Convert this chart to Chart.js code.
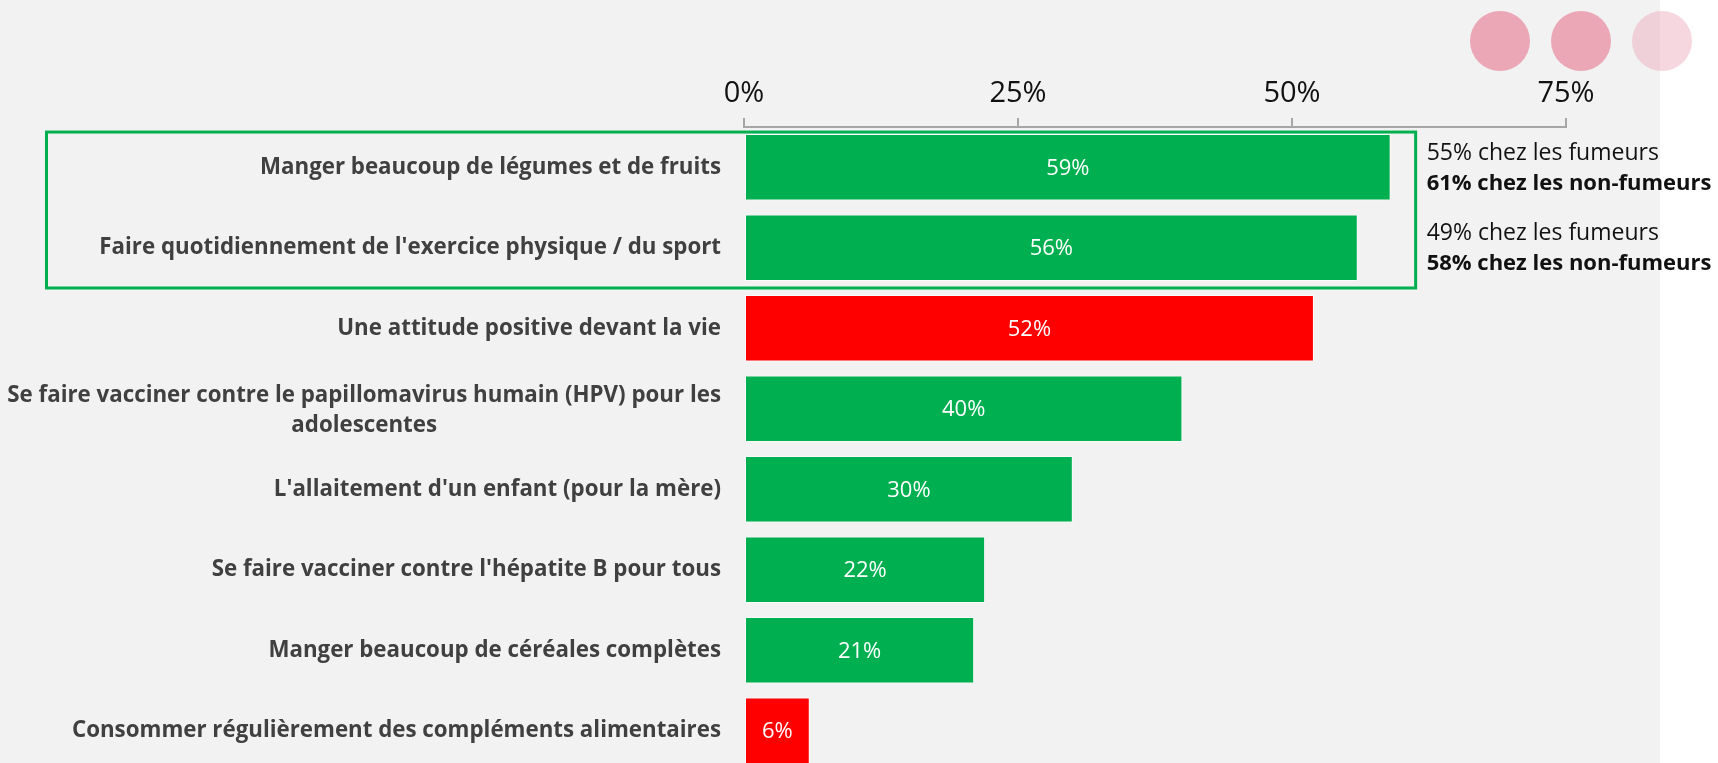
<!DOCTYPE html>
<html lang="fr">
<head>
<meta charset="utf-8">
<script src="https://cdn.jsdelivr.net/npm/chart.js@4.4.1/dist/chart.umd.min.js"></script>
<style>
  html, body { margin: 0; padding: 0; background: #ffffff; overflow: hidden; }
  #wrap { position: relative; width: 1718px; height: 763px; overflow: hidden; }
  canvas { display: block; }
</style>
</head>
<body>
<div id="wrap"><canvas id="chart" width="1718" height="771"></canvas></div>
<script>
// Données
const categories = [
    ["Manger beaucoup de légumes et de fruits"],
    ["Faire quotidiennement de l'exercice physique / du sport"],
    ["Une attitude positive devant la vie"],
    ["Se faire vacciner contre le papillomavirus humain (HPV) pour les", "adolescentes"],
    ["L'allaitement d'un enfant (pour la mère)"],
    ["Se faire vacciner contre l'hépatite B pour tous"],
    ["Manger beaucoup de céréales complètes"],
    ["Consommer régulièrement des compléments alimentaires"]
];
const values = [59, 56, 52, 40, 30, 22, 21, 6];
const isMyth = [false, false, true, false, false, false, false, true];
const xTicks = [0, 25, 50, 75];
const smokerRates = [55, 49];
const nonSmokerRates = [61, 58];

const VERT = '#00b050';
const ROUGE = '#ff0000';

// Fond gris + pastilles roses
const fondPlugin = {
    id: 'fond',
    beforeDraw(chart) {
        const ctx = chart.ctx;
        ctx.save();
        ctx.fillStyle = '#ffffff';
        ctx.fillRect(0, 0, chart.width, chart.height);
        ctx.fillStyle = '#f2f2f2';
        ctx.fillRect(0, 0, 1660, chart.height);
        ctx.restore();
    },
    afterDraw(chart) {
        const ctx = chart.ctx;
        const dots = [['#eca7b7', 1500], ['#eca7b7', 1581], ['rgba(236,167,183,0.45)', 1662]];
        ctx.save();
        dots.forEach(([c, x]) => {
            ctx.beginPath();
            ctx.arc(x, 41, 30, 0, Math.PI * 2);
            ctx.fillStyle = c;
            ctx.fill();
        });
        ctx.restore();
    }
};

// Libellés des catégories (blocs alignés à droite, lignes centrées)
const libellesPlugin = {
    id: 'libelles',
    afterDraw(chart) {
        const ctx = chart.ctx;
        const bars = chart.getDatasetMeta(0).data;
        const right = chart.chartArea.left - 23;
        ctx.save();
        ctx.font = '700 22.3px "Open Sans"';
        ctx.fillStyle = '#404040';
        ctx.textAlign = 'center';
        ctx.textBaseline = 'middle';
        categories.forEach((lines, i) => {
            const w = Math.max(...lines.map(l => ctx.measureText(l).width));
            const cx = right - w / 2;
            const y0 = bars[i].y - (lines.length - 1) * 13;
            lines.forEach((l, j) => ctx.fillText(l, cx, y0 + j * 30));
        });
        ctx.restore();
    }
};

// Valeurs dans les barres
const valeursPlugin = {
    id: 'valeurs',
    afterDatasetsDraw(chart) {
        const ctx = chart.ctx;
        ctx.save();
        ctx.font = '22px "Open Sans"';
        ctx.fillStyle = '#ffffff';
        ctx.textAlign = 'center';
        ctx.textBaseline = 'middle';
        chart.getDatasetMeta(0).data.forEach((bar, i) => {
            ctx.fillText(values[i] + '%', (bar.base + bar.x) / 2, bar.y + 1);
        });
        ctx.restore();
    }
};

// Cadre vert + détail fumeurs / non-fumeurs
const cadrePlugin = {
    id: 'cadre',
    afterDraw(chart) {
        const ctx = chart.ctx;
        const bars = chart.getDatasetMeta(0).data;
        const xs = chart.scales.x;
        const top = bars[0].y - bars[0].height / 2 - 2;
        const bottom = (bars[1].y + bars[2].y) / 2;
        const right = xs.getPixelForValue(values[0]) + 25;
        ctx.save();
        ctx.strokeStyle = VERT;
        ctx.lineWidth = 3;
        ctx.strokeRect(46.5, top, right - 46.5, bottom - top);

        ctx.textAlign = 'left';
        ctx.textBaseline = 'middle';
        ctx.fillStyle = '#111111';
        smokerRates.forEach((v, i) => {
            const y = bars[i].y;
            ctx.font = '23px "Open Sans"';
            ctx.fillText(v + '% chez les fumeurs', right + 11, y - 14);
            ctx.font = '700 22px "Open Sans"';
            ctx.fillText(nonSmokerRates[i] + '% chez les non-fumeurs', right + 11, y + 16);
        });
        ctx.restore();
    }
};

const ctx = document.getElementById('chart').getContext('2d');
new Chart(ctx, {
    type: 'bar',
    data: {
        labels: categories,
        datasets: [{
            data: values,
            backgroundColor: isMyth.map(m => m ? ROUGE : VERT),
            borderColor: 'rgba(255,255,255,0.6)',
            borderWidth: 1,
            borderSkipped: false,
            barPercentage: 0.825,
            categoryPercentage: 1
        }]
    },
    options: {
        indexAxis: 'y',
        responsive: false,
        animation: false,
        layout: { padding: { left: 744, right: 152, top: 0, bottom: 0 } },
        plugins: { legend: { display: false }, tooltip: { enabled: false } },
        scales: {
            x: {
                position: 'top',
                min: 0,
                max: 75,
                afterBuildTicks: s => { s.ticks = xTicks.map(v => ({ value: v })); },
                afterFit: s => { s.height = 127; },
                grid: { drawOnChartArea: false, drawTicks: true, tickLength: 9, color: '#a6a6a6', lineWidth: 2 },
                border: { display: true, color: '#a6a6a6', width: 2 },
                ticks: {
                    padding: 7,
                    color: '#111111',
                    font: { family: 'Open Sans', size: 29 },
                    callback: v => v + '%'
                }
            },
            y: { display: false }
        }
    },
    plugins: [fondPlugin, libellesPlugin, valeursPlugin, cadrePlugin]
});
</script>
</body>
</html>
